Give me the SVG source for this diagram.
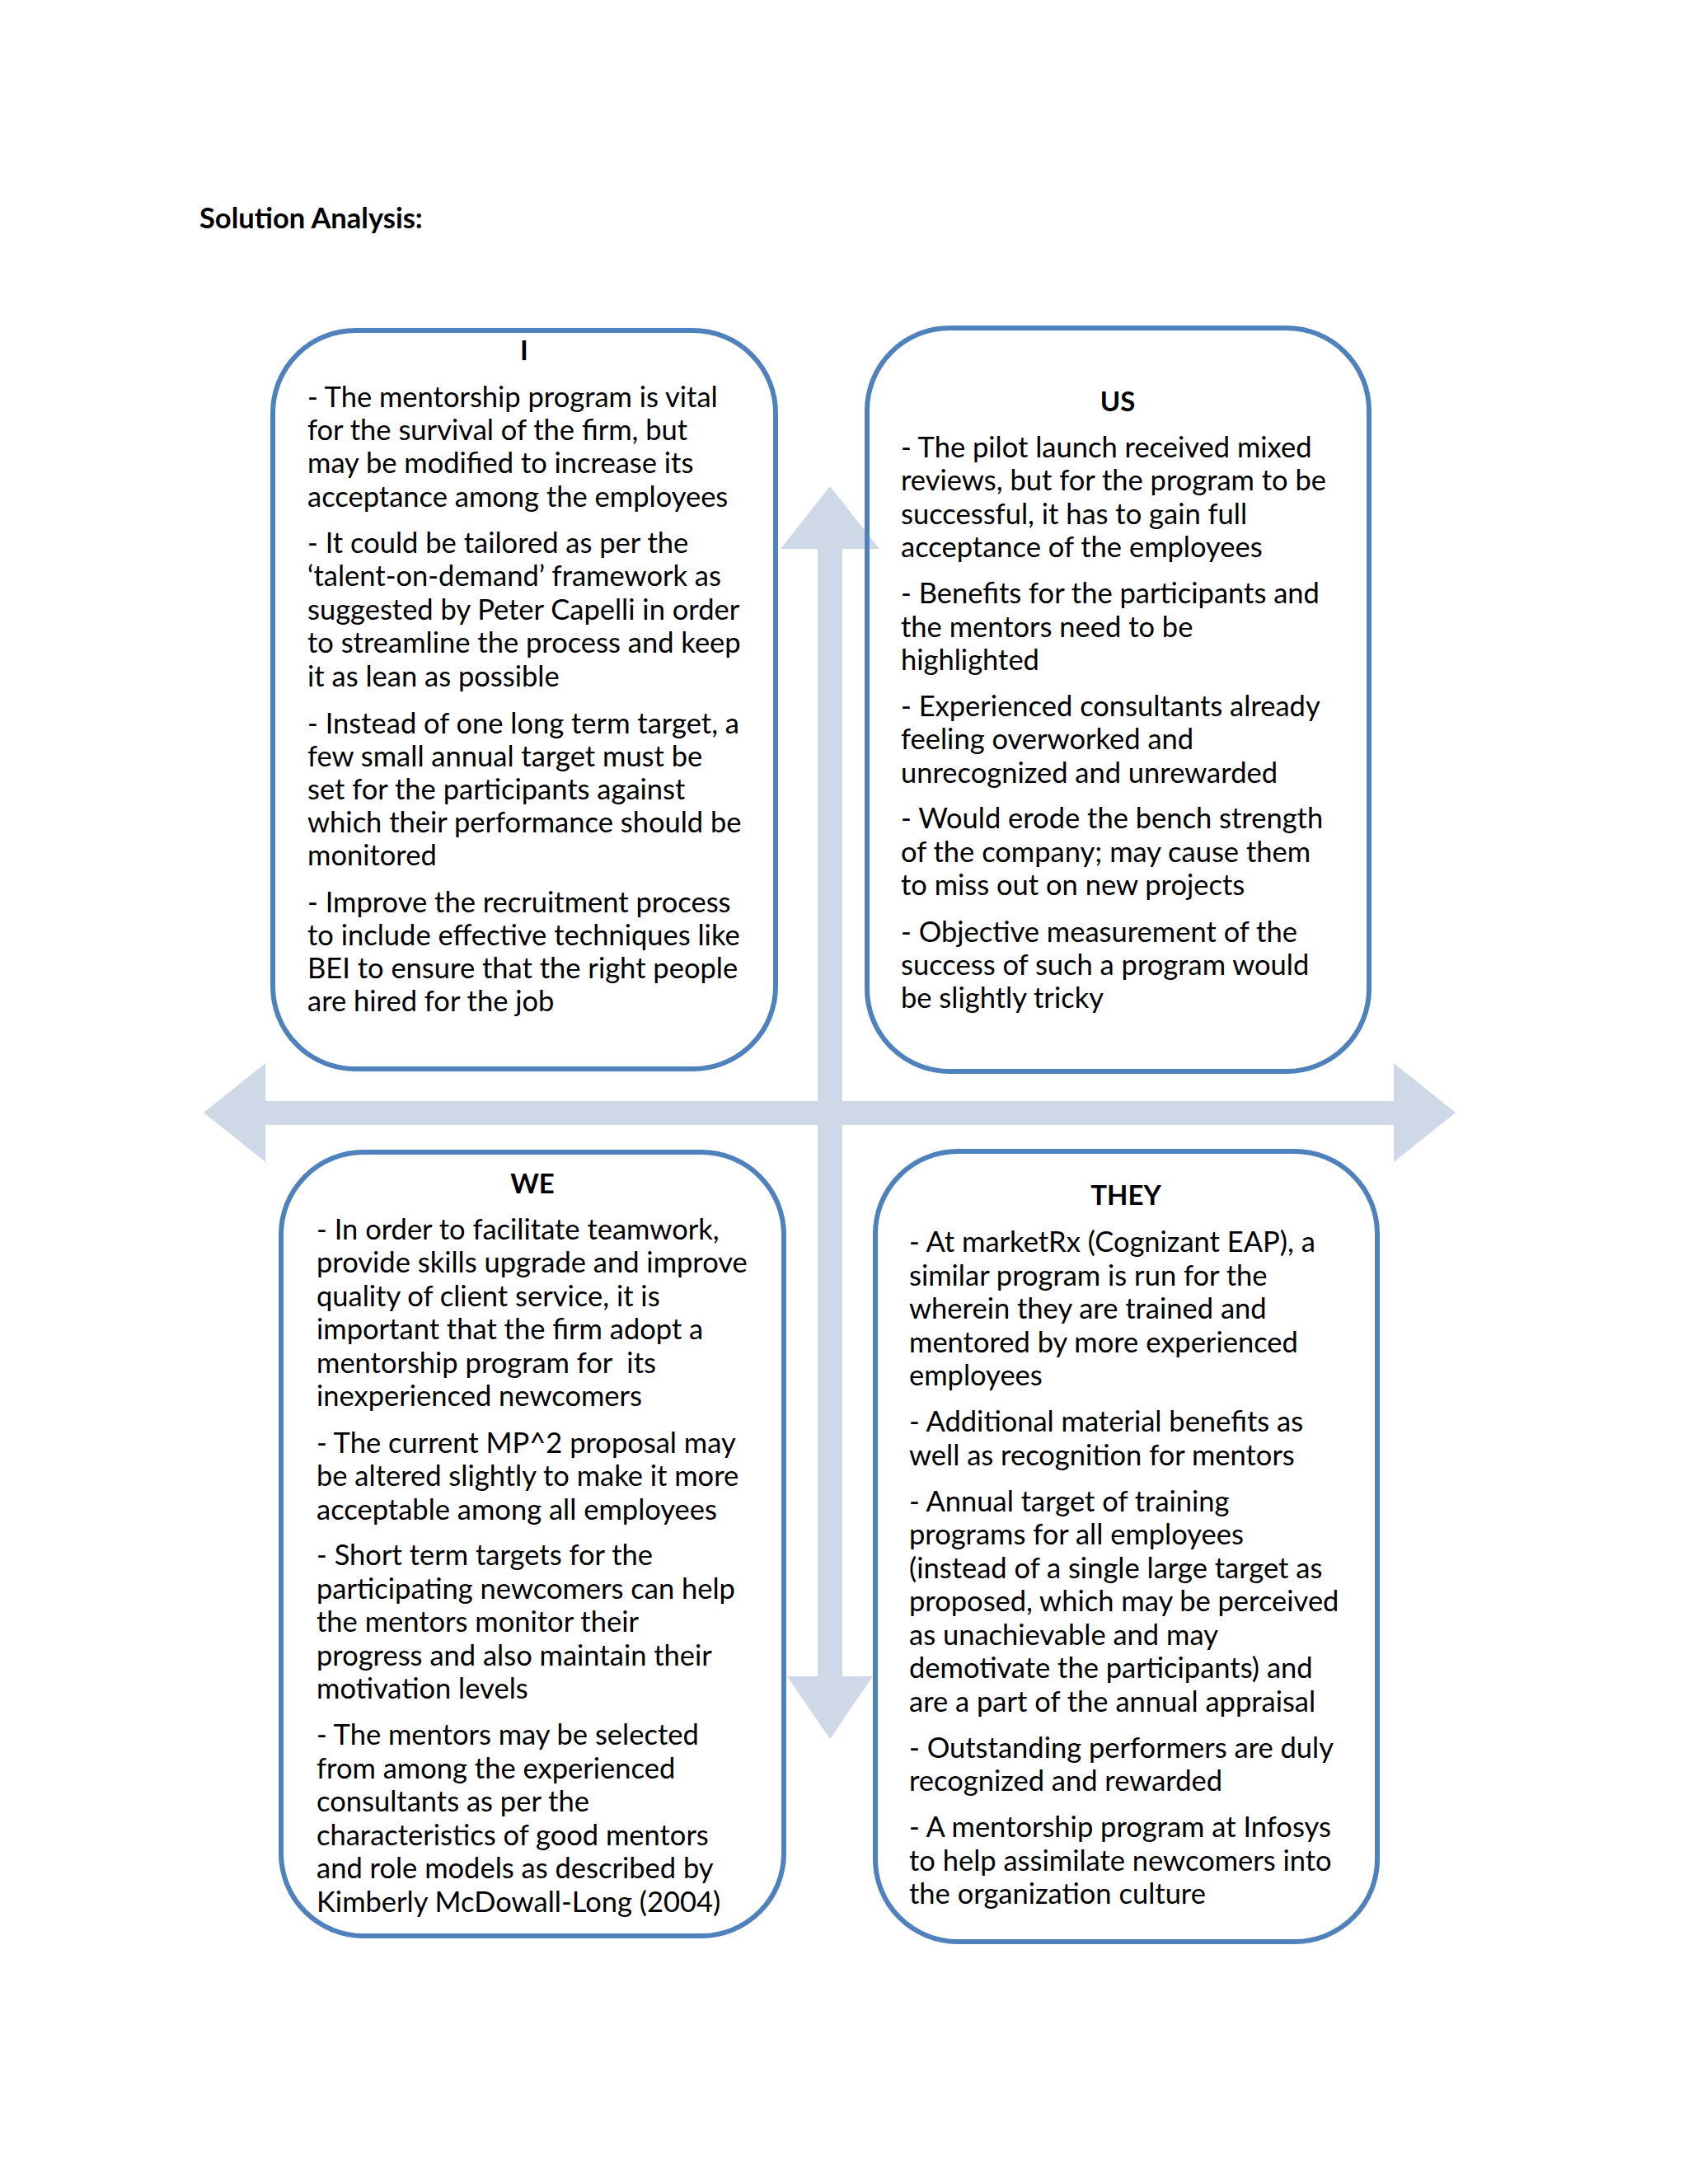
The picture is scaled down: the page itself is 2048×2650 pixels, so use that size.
<svg xmlns="http://www.w3.org/2000/svg" width="2048" height="2650" viewBox="0 0 2048 2650">
<style>
.box{fill:none;stroke:#4F81BD;stroke-width:6}
.arrow{fill:#CFD8E7;stroke:none}
.t{font-family:Lato,"Liberation Sans",sans-serif;font-size:34.5px;fill:#000}
.h{font-family:Lato,"Liberation Sans",sans-serif;font-size:33px;font-weight:bold;fill:#000;text-anchor:middle}
.title{font-family:Lato,"Liberation Sans",sans-serif;font-size:34.5px;font-weight:bold;fill:#000}
</style>
<rect width="2048" height="2650" fill="#FFFFFF"/>
<text class="title" x="242" y="277">Solution Analysis:</text>
<g id="connectors">
<polygon class="arrow" points="247,1350 322,1290 322,1336 1691,1336 1691,1290 1766,1350 1691,1410 1691,1365 322,1365 322,1410"/>
<polygon class="arrow" points="1007,590 1067,666 1022,666 1022,2034 1059,2034 1007,2110 955,2034 992,2034 992,666 947,666"/>
</g>
<g id="node-I">
<rect class="box" x="331" y="401" width="610" height="896" rx="100" ry="100"/>
<g transform="translate(0,2)">
<text class="h" x="636" y="435">I</text>
<text class="t" x="373">
<tspan x="373" y="492">- The mentorship program is vital</tspan>
<tspan x="373" y="532">for the survival of the firm, but</tspan>
<tspan x="373" y="572">may be modified to increase its</tspan>
<tspan x="373" y="613">acceptance among the employees</tspan>
<tspan x="373" y="669">- It could be tailored as per the</tspan>
<tspan x="373" y="709">‘talent-on-demand’ framework as</tspan>
<tspan x="373" y="750">suggested by Peter Capelli in order</tspan>
<tspan x="373" y="790">to streamline the process and keep</tspan>
<tspan x="373" y="831">it as lean as possible</tspan>
<tspan x="373" y="888">- Instead of one long term target, a</tspan>
<tspan x="373" y="928">few small annual target must be</tspan>
<tspan x="373" y="968">set for the participants against</tspan>
<tspan x="373" y="1008">which their performance should be</tspan>
<tspan x="373" y="1048">monitored</tspan>
<tspan x="373" y="1105">- Improve the recruitment process</tspan>
<tspan x="373" y="1145">to include effective techniques like</tspan>
<tspan x="373" y="1185">BEI to ensure that the right people</tspan>
<tspan x="373" y="1225">are hired for the job</tspan>
</text>
</g>
</g>
<g id="node-US">
<rect class="box" x="1052" y="398" width="609" height="902" rx="100" ry="100"/>
<g transform="translate(0,2)">
<text class="h" x="1356" y="497">US</text>
<text class="t" x="1093">
<tspan x="1093" y="553">- The pilot launch received mixed</tspan>
<tspan x="1093" y="593">reviews, but for the program to be</tspan>
<tspan x="1093" y="634">successful, it has to gain full</tspan>
<tspan x="1093" y="674">acceptance of the employees</tspan>
<tspan x="1093" y="730">- Benefits for the participants and</tspan>
<tspan x="1093" y="771">the mentors need to be</tspan>
<tspan x="1093" y="811">highlighted</tspan>
<tspan x="1093" y="867">- Experienced consultants already</tspan>
<tspan x="1093" y="907">feeling overworked and</tspan>
<tspan x="1093" y="948">unrecognized and unrewarded</tspan>
<tspan x="1093" y="1003">- Would erode the bench strength</tspan>
<tspan x="1093" y="1044">of the company; may cause them</tspan>
<tspan x="1093" y="1084">to miss out on new projects</tspan>
<tspan x="1093" y="1141">- Objective measurement of the</tspan>
<tspan x="1093" y="1181">success of such a program would</tspan>
<tspan x="1093" y="1221">be slightly tricky</tspan>
</text>
</g>
</g>
<g id="node-WE">
<rect class="box" x="341" y="1398" width="610" height="951" rx="100" ry="100"/>
<g transform="translate(0,2)">
<text class="h" x="646" y="1446">WE</text>
<text class="t" x="384">
<tspan x="384" y="1502">- In order to facilitate teamwork,</tspan>
<tspan x="384" y="1542">provide skills upgrade and improve</tspan>
<tspan x="384" y="1583">quality of client service, it is</tspan>
<tspan x="384" y="1623">important that the firm adopt a</tspan>
<tspan x="384" y="1664">mentorship program for&#160; its</tspan>
<tspan x="384" y="1704">inexperienced newcomers</tspan>
<tspan x="384" y="1761">- The current MP^2 proposal may</tspan>
<tspan x="384" y="1801">be altered slightly to make it more</tspan>
<tspan x="384" y="1842">acceptable among all employees</tspan>
<tspan x="384" y="1897">- Short term targets for the</tspan>
<tspan x="384" y="1938">participating newcomers can help</tspan>
<tspan x="384" y="1978">the mentors monitor their</tspan>
<tspan x="384" y="2019">progress and also maintain their</tspan>
<tspan x="384" y="2059">motivation levels</tspan>
<tspan x="384" y="2115">- The mentors may be selected</tspan>
<tspan x="384" y="2156">from among the experienced</tspan>
<tspan x="384" y="2196">consultants as per the</tspan>
<tspan x="384" y="2237">characteristics of good mentors</tspan>
<tspan x="384" y="2277">and role models as described by</tspan>
<tspan x="384" y="2318">Kimberly McDowall-Long (2004)</tspan>
</text>
</g>
</g>
<g id="node-THEY">
<rect class="box" x="1062" y="1397" width="609" height="959" rx="100" ry="100"/>
<g transform="translate(0,2)">
<text class="h" x="1366" y="1460">THEY</text>
<text class="t" x="1103">
<tspan x="1103" y="1517">- At marketRx (Cognizant EAP), a</tspan>
<tspan x="1103" y="1558">similar program is run for the</tspan>
<tspan x="1103" y="1598">wherein they are trained and</tspan>
<tspan x="1103" y="1639">mentored by more experienced</tspan>
<tspan x="1103" y="1679">employees</tspan>
<tspan x="1103" y="1735">- Additional material benefits as</tspan>
<tspan x="1103" y="1776">well as recognition for mentors</tspan>
<tspan x="1103" y="1832">- Annual target of training</tspan>
<tspan x="1103" y="1872">programs for all employees</tspan>
<tspan x="1103" y="1913">(instead of a single large target as</tspan>
<tspan x="1103" y="1953">proposed, which may be perceived</tspan>
<tspan x="1103" y="1994">as unachievable and may</tspan>
<tspan x="1103" y="2034">demotivate the participants) and</tspan>
<tspan x="1103" y="2075">are a part of the annual appraisal</tspan>
<tspan x="1103" y="2131">- Outstanding performers are duly</tspan>
<tspan x="1103" y="2171">recognized and rewarded</tspan>
<tspan x="1103" y="2227">- A mentorship program at Infosys</tspan>
<tspan x="1103" y="2268">to help assimilate newcomers into</tspan>
<tspan x="1103" y="2308">the organization culture</tspan>
</text>
</g>
</g>
</svg>
